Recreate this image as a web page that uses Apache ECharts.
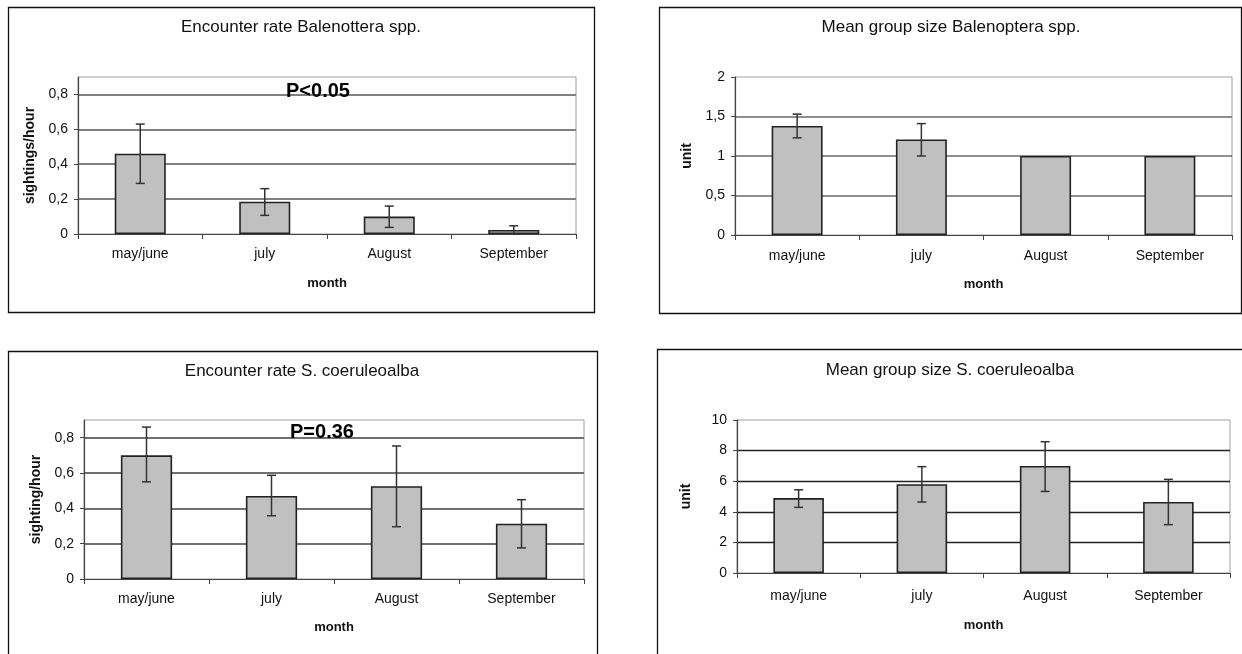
<!DOCTYPE html>
<html>
<head>
<meta charset="utf-8">
<script src="https://cdn.jsdelivr.net/npm/echarts@6/dist/echarts.min.js"></script>
<style>html,body{margin:0;padding:0;background:#fff}#c{width:1242px;height:654px}</style>
</head>
<body>
<div id="c"></div>
<script>
// ---- data ----
const months = ['may/june', 'july', 'August', 'September'];

const balRate   = [0.46, 0.185, 0.10, 0.023];
const balRateHi = [0.63, 0.26, 0.16, 0.047];
const balRateLo = [0.29, 0.107, 0.038, 0.0];

const balSize   = [1.38, 1.21, 1, 1];
const balSizeHi = [1.53, 1.41, null, null];
const balSizeLo = [1.23, 1.0, null, null];

const strRate   = [0.70, 0.47, 0.525, 0.313];
const strRateHi = [0.86, 0.587, 0.753, 0.449];
const strRateLo = [0.55, 0.358, 0.296, 0.176];

const strSize   = [4.9, 5.8, 7.0, 4.64];
const strSizeHi = [5.44, 6.95, 8.58, 6.12];
const strSizeLo = [4.29, 4.64, 5.33, 3.16];

const titles = ['Encounter rate Balenottera spp.', 'Mean group size Balenoptera spp.',
                'Encounter rate S. coeruleoalba', 'Mean group size S. coeruleoalba'];
const yNames = ['sightings/hour', 'unit', 'sighting/hour', 'unit'];
const xName = 'month';
const pTexts = ['P<0.05', 'P=0.36'];

// ---- chart ----
const FONT = '"Liberation Sans", Arial, sans-serif';
const chart = echarts.init(document.getElementById('c'), null, {renderer: 'canvas'});

const grids = [
  {left: 78,  top: 77,  width: 498, height: 157},
  {left: 735, top: 77,  width: 497, height: 158},
  {left: 84,  top: 420, width: 500, height: 159},
  {left: 737, top: 420, width: 493, height: 153}
].map(g => Object.assign(g, {show: true, borderColor: '#a0a0a0', borderWidth: 1, backgroundColor: 'transparent'}));

const yCfg = [
  {max: 0.9, interval: 0.2, hideMax: true, grid: '#808080', gw: 2, nameGap: 41},
  {max: 2, interval: 0.5, hideMax: false, grid: '#6a6a6a', gw: 1.5, nameGap: 41},
  {max: 0.9, interval: 0.2, hideMax: true, grid: '#707070', gw: 1.8, nameGap: 41},
  {max: 10, interval: 2, hideMax: false, grid: '#222', gw: 1.3, nameGap: 44}
];
const xCfg = [
  {margin: 13, gap: 43},
  {margin: 14, gap: 43},
  {margin: 13, gap: 42},
  {margin: 16, gap: 46}
];

const xAxes = grids.map((g, i) => ({
  type: 'category', gridIndex: i, data: months,
  name: xName, nameLocation: 'middle', nameGap: xCfg[i].gap,
  nameTextStyle: {fontFamily: FONT, fontSize: 13, fontWeight: 'bold', color: '#111'},
  axisLine: {lineStyle: {color: '#444', width: 1.2}},
  axisTick: {show: true, length: 5, lineStyle: {color: '#444'}},
  axisLabel: {fontFamily: FONT, fontSize: 14, color: '#111', margin: xCfg[i].margin},
  splitLine: {show: false}
}));

const yAxes = yCfg.map((c, i) => ({
  type: 'value', gridIndex: i, min: 0, max: c.max, interval: c.interval,
  name: yNames[i], nameLocation: 'middle', nameRotate: 90, nameGap: c.nameGap,
  nameTextStyle: {fontFamily: FONT, fontSize: 14, fontWeight: 'bold', color: '#111'},
  axisLine: {show: true, lineStyle: {color: '#444', width: 1.2}},
  axisTick: {show: true, length: 4, inside: false, lineStyle: {color: '#444'}},
  axisLabel: {fontFamily: FONT, fontSize: 14, color: '#111', margin: 10,
    showMaxLabel: !c.hideMax,
    formatter: v => String(Math.round(v * 100) / 100).replace('.', ',')},
  splitLine: {show: true, showMinLine: false, showMaxLine: false, lineStyle: {color: c.grid, width: c.gw}}
}));

function errData(hi, lo) {
  const out = [];
  hi.forEach((h, i) => { if (h != null && lo[i] != null) out.push([i, h, lo[i]]); });
  return out;
}

function errRender(params, api) {
  const x = api.value(0);
  const top = api.coord([x, api.value(1)]);
  const bot = api.coord([x, api.value(2)]);
  const hw = 4.5;
  const st = {stroke: '#333', lineWidth: 1.5};
  return {type: 'group', children: [
    {type: 'line', shape: {x1: top[0], y1: top[1], x2: bot[0], y2: bot[1]}, style: st},
    {type: 'line', shape: {x1: top[0] - hw, y1: top[1], x2: top[0] + hw, y2: top[1]}, style: st},
    {type: 'line', shape: {x1: bot[0] - hw, y1: bot[1], x2: bot[0] + hw, y2: bot[1]}, style: st}
  ]};
}

const vals = [balRate, balSize, strRate, strSize];
const his = [balRateHi, balSizeHi, strRateHi, strSizeHi];
const los = [balRateLo, balSizeLo, strRateLo, strSizeLo];

const series = [];
vals.forEach((v, i) => {
  series.push({
    type: 'bar', xAxisIndex: i, yAxisIndex: i, data: v, barWidth: '41%',
    itemStyle: {color: '#c0c0c0', borderColor: '#222', borderWidth: 1.6},
    silent: true, z: 2
  });
  series.push({
    type: 'custom', xAxisIndex: i, yAxisIndex: i, data: errData(his[i], los[i]),
    renderItem: errRender, silent: true, z: 5
  });
});

const titleCfg = [
  {x: 301, y: 19}, {x: 951, y: 19}, {x: 302, y: 363}, {x: 950, y: 362}
];
const title = titles.map((t, i) => ({
  text: t, left: titleCfg[i].x, top: titleCfg[i].y, textAlign: 'center', padding: 0,
  textStyle: {fontFamily: FONT, fontSize: 17, fontWeight: 'normal', color: '#111'}
}));

const boxes = [
  {x: 8, y: 7, w: 586, h: 305},
  {x: 659, y: 7, w: 582, h: 306},
  {x: 8, y: 351, w: 589, h: 320},
  {x: 657, y: 349, w: 600, h: 320}
];
const graphic = boxes.map(b => ({
  type: 'rect', shape: {x: b.x + 0.5, y: b.y + 0.5, width: b.w, height: b.h},
  style: {fill: null, stroke: '#111', lineWidth: 1.3}, silent: true, z: -1
}));
graphic.push({
  type: 'text', x: 318, y: 91, style: {text: pTexts[0], font: 'bold 20px ' + FONT, fill: '#000',
  textAlign: 'center', textVerticalAlign: 'middle'}, z: 10
});
graphic.push({
  type: 'text', x: 322, y: 432, style: {text: pTexts[1], font: 'bold 20px ' + FONT, fill: '#000',
  textAlign: 'center', textVerticalAlign: 'middle'}, z: 10
});

chart.setOption({
  animation: false,
  backgroundColor: '#fff',
  title, grid: grids, xAxis: xAxes, yAxis: yAxes, series, graphic
});
</script>
</body>
</html>
